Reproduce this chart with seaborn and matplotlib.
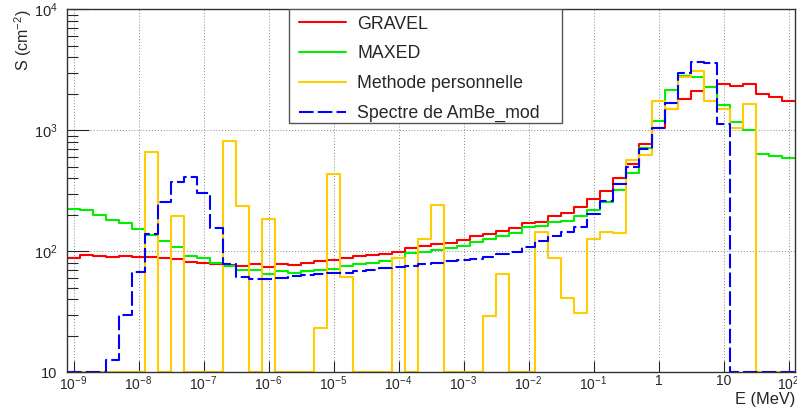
import numpy as np
import matplotlib
matplotlib.use("Agg")
import matplotlib.pyplot as plt
import seaborn as sns
from matplotlib.lines import Line2D
from matplotlib.patches import Rectangle
from matplotlib.ticker import NullFormatter

# bornes des bins en log10(E / MeV) : 56 bins de 0.2 decade
log_edges = np.linspace(-9.1, 2.1, 57)

gravel = [88, 94, 92, 90, 92, 90, 89.5, 88.5, 87, 82,
          79.5, 78.5, 77, 76, 79, 74.5, 78, 77, 79.5, 83,
          85, 88.5, 91.5, 92.7, 94.4, 98.7, 107, 111, 115, 118,
          124, 134, 138, 147, 155, 172, 175, 196, 208, 231,
          272, 315, 406, 530, 766, 1040, 1500, 1800, 2120, 2290,
          2400, 2340, 2430, 2010, 1875, 1745]
maxed = [225, 219, 201, 181, 170, 152, 137, 122, 109, 92,
         87.5, 79.5, 75, 70.5, 70.5, 65.3, 68.3, 66.2, 68.7, 70,
         71.8, 75.7, 78.5, 79.6, 82.6, 88.5, 96, 98.6, 102, 106,
         111, 120, 125.6, 133.6, 142.6, 159.6, 163, 174.6, 178, 196,
         221, 257, 321, 447, 718, 1200, 2150, 2810, 2750, 2290,
         1620, 1180, 1005, 641, 614, 594]
perso = [0, 0, 0, 0, 0, 0, 658, 0, 195, 0,
         0, 0, 820, 237, 0, 184, 0, 0, 0, 23.4,
         433, 61.6, 0, 0, 0, 88.5, 0, 126, 241, 0,
         0, 0, 29.4, 65, 0, 0, 143.6, 88.5, 41.4, 31.1,
         126, 145, 142, 569, 621, 1745, 1490, 2770, 3110, 1745,
         1490, 1040, 1660, 0, 0, 0]
ambe = [0, 0, 0, 12.6, 29.8, 67.8, 139, 257, 376, 408,
        305, 157, 78, 61, 59, 59, 60.5, 62.5, 63.4, 64.6,
        65.8, 66.7, 68.7, 70, 73.3, 74, 76, 78, 80.5, 83,
        84.5, 86, 90, 94.4, 99, 108, 122, 134, 144, 160,
        204, 262, 358, 494, 700, 1040, 1670, 2990, 3690, 3620,
        1128, 0, 0, 0, 0, 0]

labels = ["GRAVEL", "MAXED", "Methode personnelle", "Spectre de AmBe_mod"]
colors = ["#ff0000", "#00ee00", "#ffcc00", "#0000ff"]
styles = ["-", "-", "-", (0, (7, 2))]

x_ticks = [1e-9, 1e-8, 1e-7, 1e-6, 1e-5, 1e-4, 1e-3, 1e-2, 1e-1, 1, 10, 100]
x_tick_labels = ["$10^{-9}$", "$10^{-8}$", "$10^{-7}$", "$10^{-6}$", "$10^{-5}$",
                 "$10^{-4}$", "$10^{-3}$", "$10^{-2}$", "$10^{-1}$", "1", "10", "$10^{2}$"]
y_ticks = [10, 100, 1000, 10000]
y_tick_labels = ["10", "$10^{2}$", "$10^{3}$", "$10^{4}$"]

sns.set_theme(style="ticks")
plt.rcParams["font.family"] = ["Liberation Sans", "DejaVu Sans"]
plt.rcParams["mathtext.fontset"] = "custom"
plt.rcParams["mathtext.rm"] = "Liberation Sans"
plt.rcParams["mathtext.it"] = "Liberation Sans:italic"
plt.rcParams["mathtext.bf"] = "Liberation Sans:bold"

W, H = 797, 419
fig = plt.figure(figsize=(W / 100, H / 100), dpi=100)
ax = fig.add_axes([67 / W, (H - 372.3) / H, 728 / W, 363 / H])

centers = 10 ** ((log_edges[:-1] + log_edges[1:]) / 2)
for vals, col, ls, lab in zip([gravel, maxed, perso, ambe], colors, styles, labels):
    w = np.clip(np.array(vals, dtype=float), 10, None)  # bins vides poses sur l'axe
    sns.histplot(x=centers, weights=w, bins=list(log_edges), log_scale=(True, True),
                 element="step", fill=False, color=col, linewidth=1.5,
                 linestyle=ls, ax=ax)

ax.set_xlim(10 ** -9.1, 10 ** 2.1)
ax.set_ylim(10, 1e4)
ax.set_xlabel("")
ax.set_ylabel("")

ax.set_xticks(x_ticks, x_tick_labels)
ax.set_yticks(y_ticks, y_tick_labels)
ax.xaxis.set_minor_formatter(NullFormatter())
ax.yaxis.set_minor_formatter(NullFormatter())
ax.tick_params(axis="x", which="major", direction="in", length=8, width=0.8, pad=1.5, labelsize=10)
ax.tick_params(axis="x", which="minor", direction="in", length=4.5, width=0.8)
ax.tick_params(axis="y", which="major", direction="in", length=16, width=0.8, pad=7, labelsize=10.5)
ax.tick_params(axis="y", which="minor", direction="in", length=8, width=0.8)
ax.grid(True, which="major", color="#888888", linestyle=(0, (1, 2)), linewidth=0.7)
for s in ax.spines.values():
    s.set_color("#333333")
    s.set_linewidth(1)

# cadre de la legende
ax.add_patch(Rectangle((222.3 / 728, 1 - 113.7 / 363), 273 / 728, 113.7 / 363,
                       transform=ax.transAxes, facecolor="white", edgecolor="#555555",
                       linewidth=1, zorder=4.5))
handles = [Line2D([], [], color=c, linestyle=l, linewidth=1.5) for c, l in zip(colors, styles)]
ax.legend(handles, labels, loc="upper left", bbox_to_anchor=(232.3 / 728, 1 - 6.3 / 363),
          frameon=False, borderpad=0, borderaxespad=0, fontsize=12.8,
          handlelength=2.64, handletextpad=0.62, labelspacing=0.72)

fig.text(23 / W, 1 - 9 / H, "S (cm$^{-2}$)", rotation=90, ha="center", va="top", fontsize=11.5)
fig.text(795 / W, 1 - 399 / H, "E (MeV)", ha="right", va="center", fontsize=11.8)

fig.savefig("out.png", dpi=100)
